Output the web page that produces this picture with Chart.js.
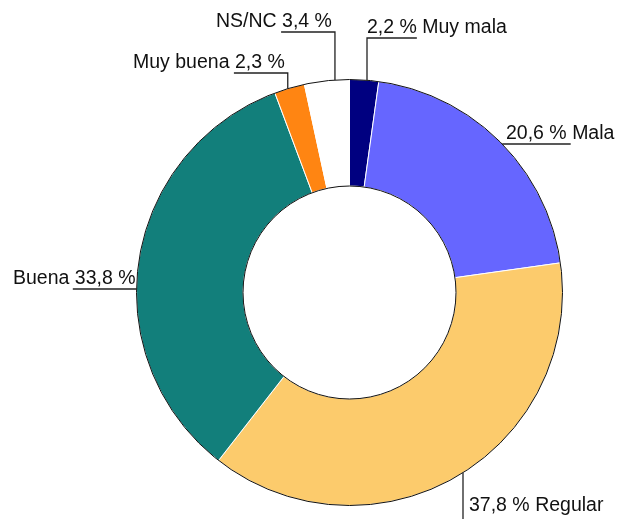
<!DOCTYPE html>
<html>
<head>
<meta charset="utf-8">
<script src="https://cdn.jsdelivr.net/npm/chart.js@4"></script>
<style>
  html, body { margin: 0; padding: 0; background: #fff; }
  #wrap { width: 617px; height: 519px; position: relative; }
</style>
</head>
<body>
<div id="wrap"><canvas id="grafico-01"></canvas></div>
<script>
// datos del grafico (porcentaje de respuestas)
const categorias = ['Muy mala', 'Mala', 'Regular', 'Buena', 'Muy buena', 'NS/NC'];
const porcentajes = [2.2, 20.6, 37.8, 33.8, 2.3, 3.4];
const colores = ['#000080', '#6666FF', '#FCCB6C', '#127F7B', '#FF8512', '#FFFFFF'];

// posicion de cada etiqueta (x,y = inicio del texto en la linea base)
// orden: 'valor' -> "2,2 % Muy mala", 'nombre' -> "Buena 33,8 %"
const etiquetas = [
  { x: 367, y: 33, orden: 'valor', guia: 'vertIzq' },
  { x: 506, y: 139, orden: 'valor', guia: 'horizIzq' },
  { x: 469, y: 511, orden: 'valor', guia: 'vertAbajo' },
  { x: 13, y: 284, orden: 'nombre', guia: 'horizDer' },
  { x: 133, y: 68, orden: 'nombre', guia: 'vertDer' },
  { x: 216, y: 27, orden: 'nombre', guia: 'vertDer' }
];

function textoValor(v) {
  return v.toFixed(1).replace('.', ',') + ' %';
}

// contorno negro exterior e interior del anillo
const contornoPlugin = {
  id: 'contorno',
  afterDatasetsDraw(chart) {
    const arc = chart.getDatasetMeta(0).data[0];
    const ctx = chart.ctx;
    ctx.save();
    ctx.strokeStyle = '#111';
    ctx.lineWidth = 1;
    ctx.beginPath();
    ctx.arc(arc.x, arc.y, arc.outerRadius, 0, Math.PI * 2);
    ctx.stroke();
    ctx.beginPath();
    ctx.arc(arc.x, arc.y, arc.innerRadius, 0, Math.PI * 2);
    ctx.stroke();
    ctx.restore();
  }
};

// etiquetas con lineas guia
const etiquetasPlugin = {
  id: 'etiquetas',
  afterDraw(chart) {
    const ctx = chart.ctx;
    const arc = chart.getDatasetMeta(0).data[0];
    const cx = arc.x, cy = arc.y, R = arc.outerRadius;
    ctx.save();
    ctx.font = '19.5px "Liberation Sans", Arial, sans-serif';
    ctx.fillStyle = '#111';
    ctx.strokeStyle = '#222';
    ctx.lineWidth = 1.3;
    ctx.textBaseline = 'alphabetic';
    ctx.textAlign = 'left';
    for (let i = 0; i < categorias.length; i++) {
      const e = etiquetas[i];
      const val = textoValor(porcentajes[i]);
      const nom = categorias[i];
      let vx;
      if (e.orden === 'valor') {
        ctx.fillText(val + ' ' + nom, e.x, e.y);
        vx = e.x;
      } else {
        ctx.fillText(nom + ' ' + val, e.x, e.y);
        vx = e.x + ctx.measureText(nom + ' ').width;
      }
      const vw = ctx.measureText(val).width;
      const uy = e.y + 5;
      ctx.beginPath();
      if (e.guia === 'vertIzq') {
        const yc = cy - Math.sqrt(R * R - (vx - cx) * (vx - cx));
        ctx.moveTo(vx + vw, uy);
        ctx.lineTo(vx, uy);
        ctx.lineTo(vx, yc);
      } else if (e.guia === 'vertDer') {
        const x2 = vx + vw + 3;
        const yc = cy - Math.sqrt(R * R - (x2 - cx) * (x2 - cx));
        ctx.moveTo(vx - 1, uy);
        ctx.lineTo(x2, uy);
        ctx.lineTo(x2, yc);
      } else if (e.guia === 'horizIzq') {
        const xc = cx + Math.sqrt(R * R - (uy - cy) * (uy - cy));
        ctx.moveTo(vx + vw + 4, uy);
        ctx.lineTo(xc, uy);
      } else if (e.guia === 'horizDer') {
        const xc = cx - Math.sqrt(R * R - (uy - cy) * (uy - cy));
        ctx.moveTo(vx - 2, uy);
        ctx.lineTo(xc, uy);
      } else if (e.guia === 'vertAbajo') {
        const lx = e.x - 6;
        const yc = cy + Math.sqrt(R * R - (lx - cx) * (lx - cx));
        ctx.moveTo(lx, yc);
        ctx.lineTo(lx, chart.height);
      }
      ctx.stroke();
    }
    ctx.restore();
  }
};

const configGrafico = {
  type: 'doughnut',
  data: {
    labels: categorias,
    datasets: [{
      data: porcentajes,
      backgroundColor: colores,
      borderColor: '#ffffff',
      borderWidth: 1
    }]
  },
  options: {
    responsive: true,
    maintainAspectRatio: false,
    animation: false,
    cutout: '50%',
    layout: { padding: { top: 79, bottom: 13, left: 136, right: 54 } },
    plugins: {
      legend: { display: false },
      tooltip: { enabled: false }
    }
  },
  plugins: [contornoPlugin, etiquetasPlugin]
};

window.onload = function () {
  let ctx = document.getElementById('grafico-01').getContext('2d');
  window.graficoDona = new Chart(ctx, configGrafico);
};
</script>
</body>
</html>
